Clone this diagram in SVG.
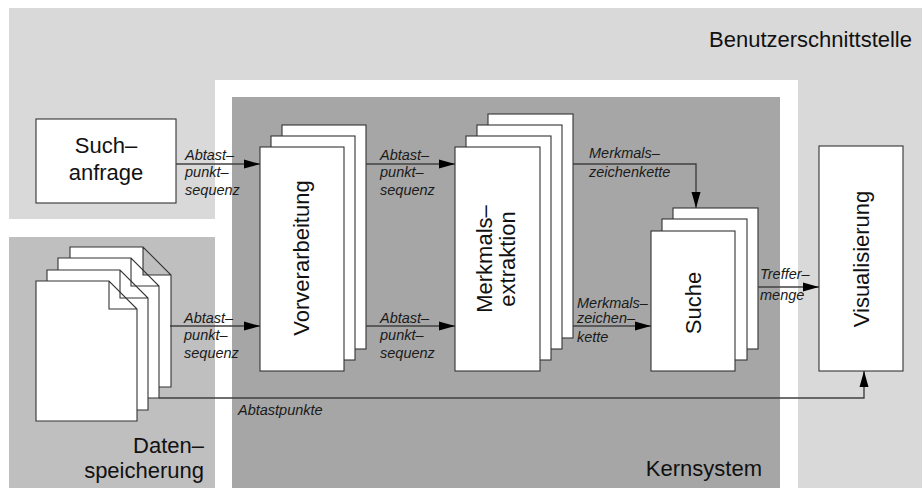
<svg xmlns="http://www.w3.org/2000/svg" width="922" height="488" viewBox="0 0 922 488">
<style>
.box{fill:#fff;stroke:#333;stroke-width:1.1}
.ln{fill:none;stroke:#404040;stroke-width:1.4}
.big{font-family:"Liberation Sans",Arial,Helvetica,sans-serif;font-size:22px;fill:#111}
.lbl{font-family:"Liberation Sans",Arial,Helvetica,sans-serif;font-size:14.5px;font-style:italic;fill:#1a1a1a}
</style>
<defs>
<marker id="ah" viewBox="0 0 16 10" refX="16" refY="5" markerWidth="16" markerHeight="10" markerUnits="userSpaceOnUse" orient="auto">
<path d="M0,0.5 L16,5 L0,9.5 z" fill="#000"/>
</marker>
<path id="page" d="M0,0 h73 l28,28 v112 h-101 z M73,0 v28 h28"/>
</defs>
<rect width="922" height="488" fill="#fff"/>
<g id="areas">
<rect x="9" y="8" width="913" height="480" fill="#d9d9d9"/>
<rect x="215" y="80" width="583" height="408" fill="#fff"/>
<rect x="9" y="219" width="206" height="18" fill="#fff"/>
<rect x="9" y="237" width="206" height="251" fill="#bfbfbf"/>
<rect x="232" y="97" width="548" height="391" fill="#a6a6a6"/>
<text class="big" x="912" y="47" text-anchor="end">Benutzerschnittstelle</text>
<text class="big" x="762" y="476" text-anchor="end">Kernsystem</text>
<text class="big" x="204" y="453" text-anchor="end">Daten–</text>
<text class="big" x="204" y="478" text-anchor="end">speicherung</text>
</g>
<g id="suchanfrage">
<rect class="box" x="36" y="119" width="140" height="84"/>
<text class="big" x="106" y="153" text-anchor="middle">Such–</text>
<text class="big" x="106" y="180" text-anchor="middle">anfrage</text>
</g>
<g id="daten">
<use href="#page" class="box" x="70" y="247"/>
<use href="#page" class="box" x="58" y="258"/>
<use href="#page" class="box" x="47" y="270"/>
<use href="#page" class="box" x="36" y="281"/>
</g>
<g id="vorverarbeitung">
<rect class="box" x="282" y="125" width="84" height="224"/>
<rect class="box" x="271" y="136" width="84" height="224"/>
<rect class="box" x="260" y="147" width="84" height="224"/>
<text class="big" transform="translate(309,258) rotate(-90)" text-anchor="middle">Vorverarbeitung</text>
</g>
<g id="merkmalsextraktion">
<rect class="box" x="488" y="114" width="85" height="224"/>
<rect class="box" x="477" y="125" width="85" height="224"/>
<rect class="box" x="466" y="136" width="85" height="224"/>
<rect class="box" x="455" y="147" width="85" height="224"/>
<text class="big" transform="translate(492,259) rotate(-90)" text-anchor="middle">Merkmals–</text>
<text class="big" transform="translate(515,259) rotate(-90)" text-anchor="middle">extraktion</text>
</g>
<g id="suche">
<rect class="box" x="673" y="208" width="85" height="141"/>
<rect class="box" x="662" y="219" width="85" height="141"/>
<rect class="box" x="651" y="231" width="84" height="140"/>
<text class="big" transform="translate(701,303) rotate(-90)" text-anchor="middle">Suche</text>
</g>
<g id="visualisierung">
<rect class="box" x="819" y="146" width="84" height="225"/>
<text class="big" transform="translate(869,259) rotate(-90)" text-anchor="middle">Visualisierung</text>
</g>
<g id="connectors">
<path class="ln" d="M176,164 H260" marker-end="url(#ah)"/>
<path class="ln" d="M170,326 H260" marker-end="url(#ah)"/>
<path class="ln" d="M366,164 H455" marker-end="url(#ah)"/>
<path class="ln" d="M366,326 H455" marker-end="url(#ah)"/>
<path class="ln" d="M573,164 H696 V208" marker-end="url(#ah)"/>
<path class="ln" d="M573,326 H651" marker-end="url(#ah)"/>
<path class="ln" d="M758,287 H819" marker-end="url(#ah)"/>
<path class="ln" d="M159,398 H864 V371" marker-end="url(#ah)"/>
<text class="lbl" x="185" y="160">Abtast–</text>
<text class="lbl" x="185" y="177">punkt–</text>
<text class="lbl" x="185" y="195">sequenz</text>
<text class="lbl" x="184" y="323">Abtast–</text>
<text class="lbl" x="184" y="340">punkt–</text>
<text class="lbl" x="184" y="358">sequenz</text>
<text class="lbl" x="380" y="160">Abtast–</text>
<text class="lbl" x="380" y="177">punkt–</text>
<text class="lbl" x="380" y="195">sequenz</text>
<text class="lbl" x="380" y="323">Abtast–</text>
<text class="lbl" x="380" y="340">punkt–</text>
<text class="lbl" x="380" y="358">sequenz</text>
<text class="lbl" x="589" y="158">Merkmals–</text>
<text class="lbl" x="589" y="177">zeichenkette</text>
<text class="lbl" x="577" y="308">Merkmals–</text>
<text class="lbl" x="577" y="323">zeichen–</text>
<text class="lbl" x="577" y="342">kette</text>
<text class="lbl" x="760" y="279">Treffer–</text>
<text class="lbl" x="760" y="300">menge</text>
<text class="lbl" x="238" y="415">Abtastpunkte</text>
</g>
</svg>
